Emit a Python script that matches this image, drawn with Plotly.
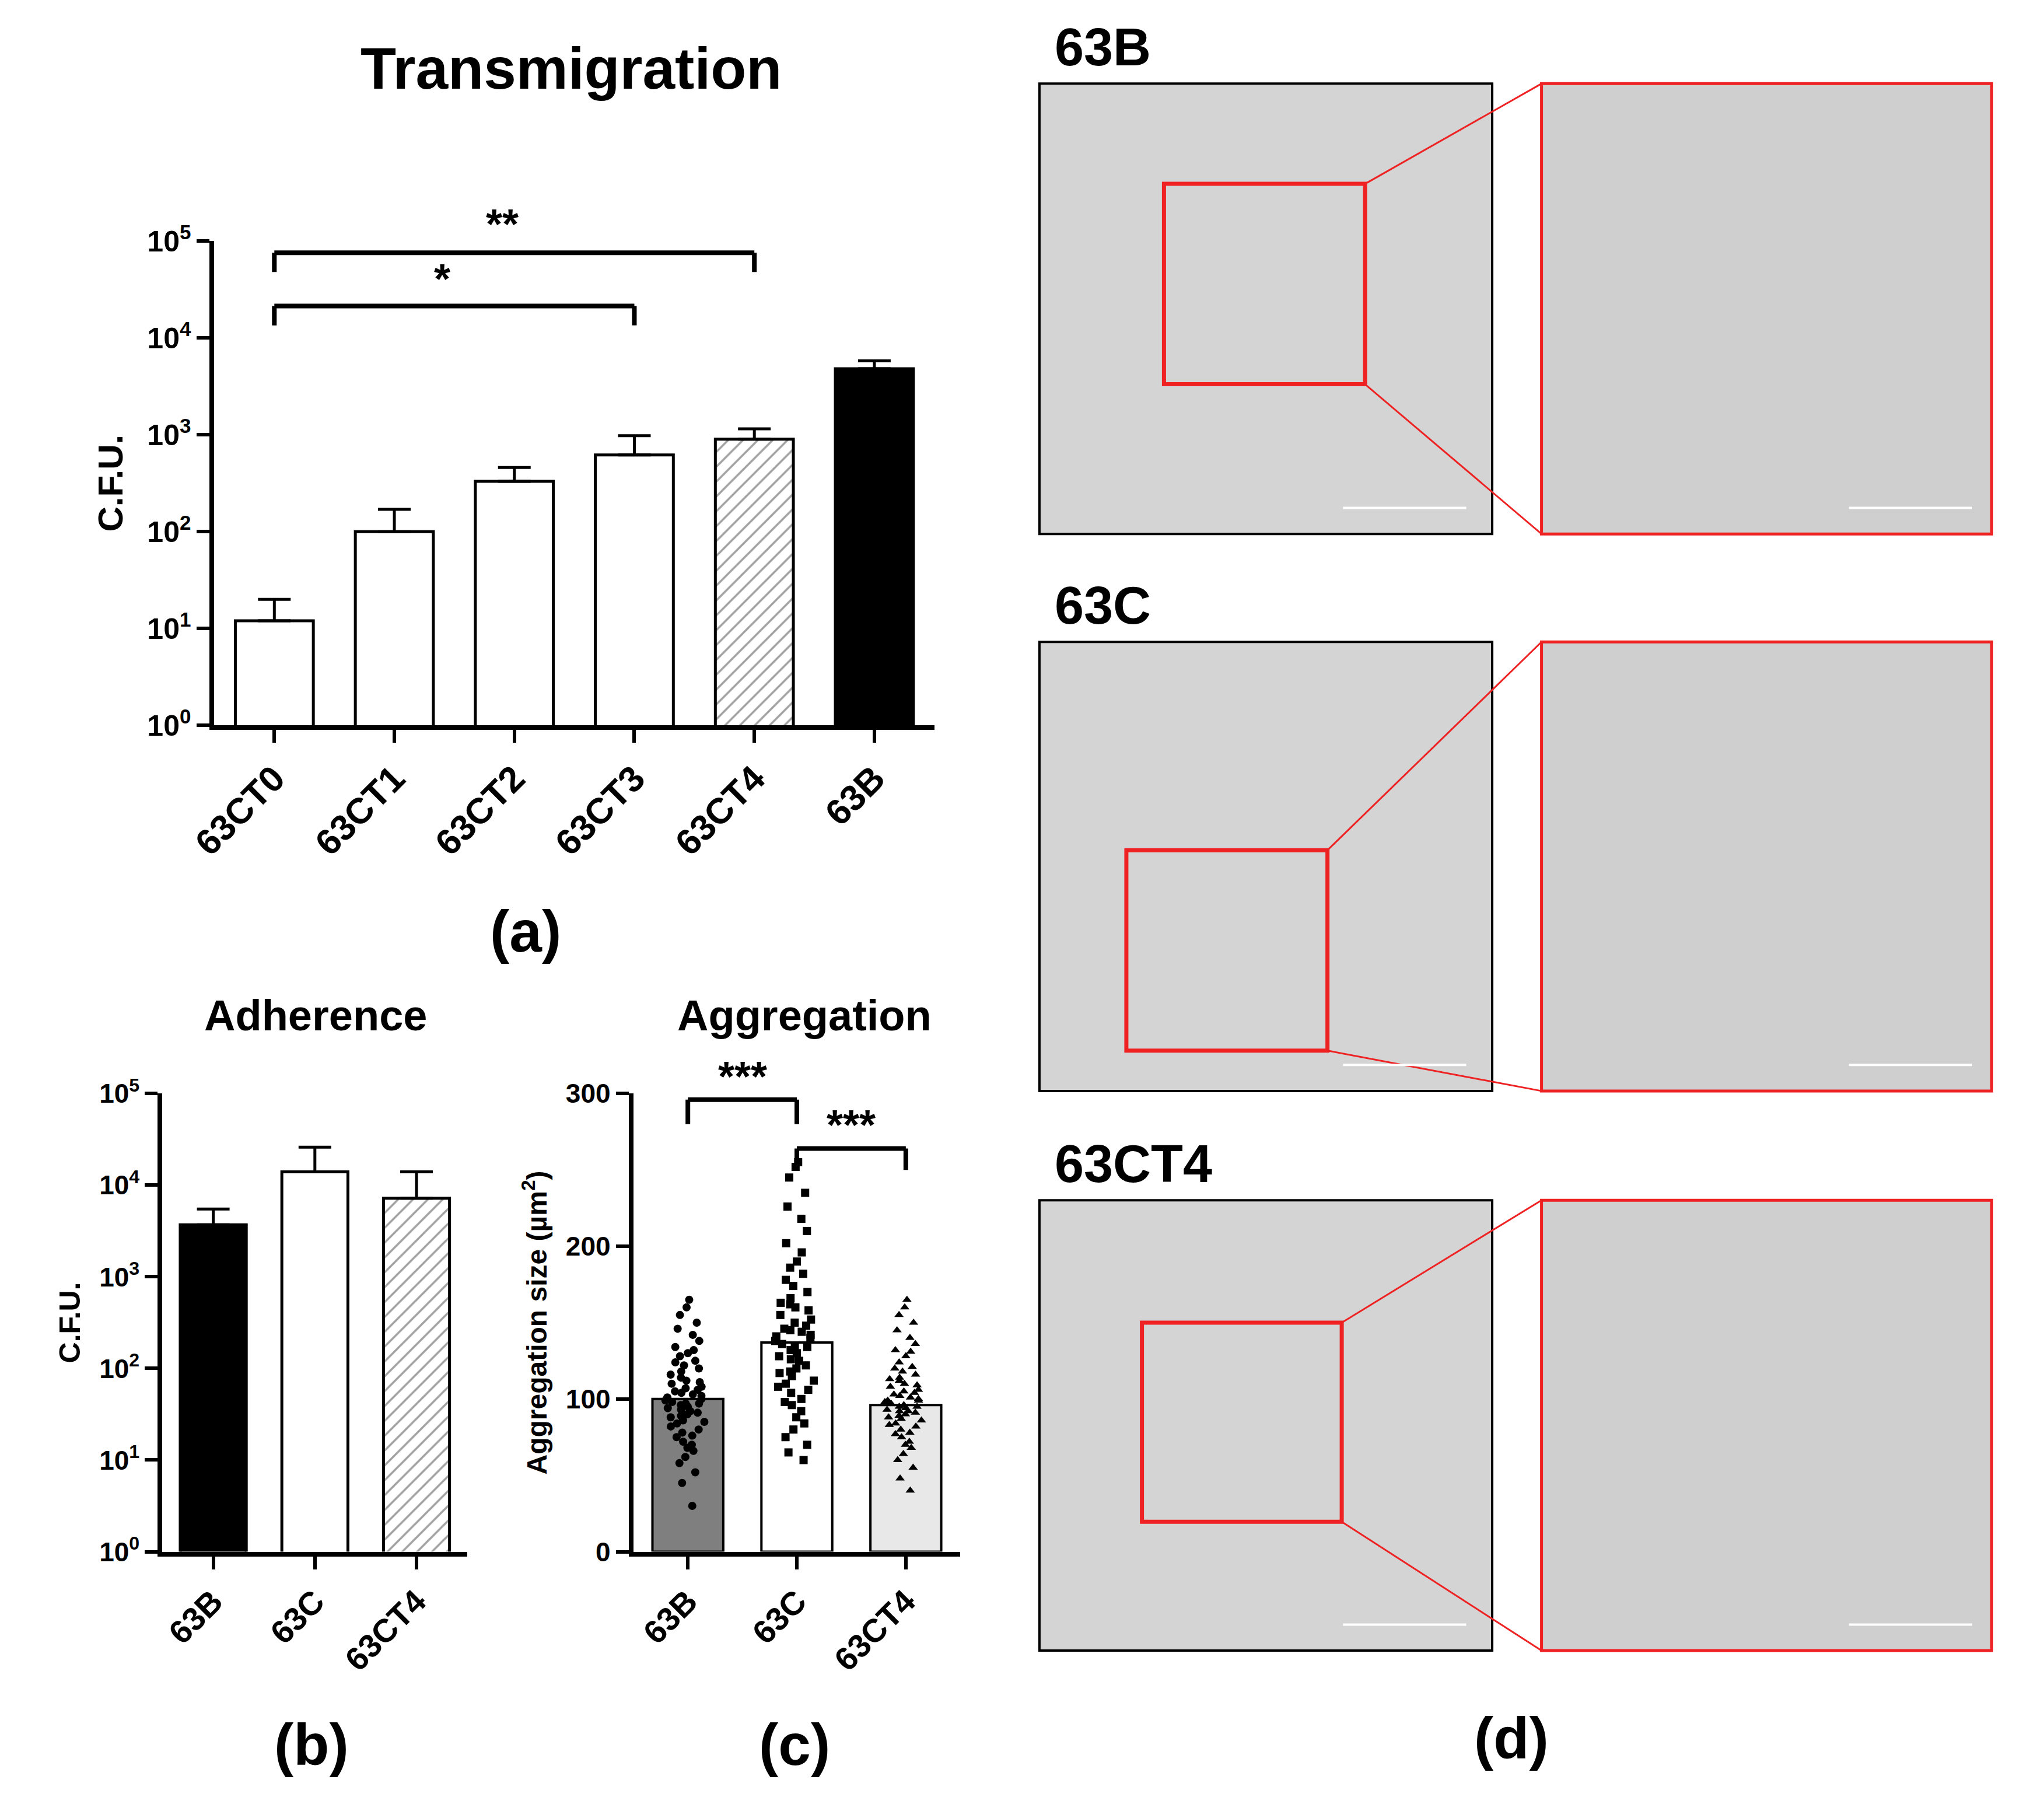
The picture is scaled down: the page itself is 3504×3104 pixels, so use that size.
import plotly.graph_objects as go

W, H = 3504, 3104
# ---------------- data ----------------
trans_cats = ["63CT0", "63CT1", "63CT2", "63CT3", "63CT4", "63B"]
trans_vals = [12, 100, 330, 620, 900, 4800]
trans_err = [8, 70, 130, 360, 250, 1000]

adh_cats = ["63B", "63C", "63CT4"]
adh_vals = [3700, 14000, 7200]
adh_err = [1800, 12000, 6800]

agg_cats = ["63B", "63C", "63CT4"]
agg_means = [100, 137, 96]
agg_63B = [30, 45, 52, 58, 62, 66, 70, 72, 75, 78, 80, 82, 84, 86, 88, 90, 91, 92, 94, 95, 96, 97, 98, 99,
           100, 101, 102, 103, 104, 105, 106, 108, 110, 112, 114, 116, 118, 120, 122, 125, 128, 130, 134,
           138, 142, 146, 150, 155, 160, 165, 85, 93, 107, 111, 97, 89, 76, 68, 124, 132]
agg_63C = [60, 65, 70, 75, 80, 84, 88, 92, 96, 100, 104, 108, 110, 112, 115, 118, 120, 122, 125, 128, 130,
           132, 134, 136, 138, 140, 142, 144, 146, 148, 150, 152, 155, 158, 160, 163, 166, 170, 174, 178,
           182, 186, 190, 196, 202, 210, 218, 226, 235, 245, 252, 255, 126, 135, 141, 117, 106, 98, 145, 162]
agg_63CT4 = [40, 48, 55, 60, 64, 68, 72, 75, 78, 80, 82, 84, 86, 88, 90, 91, 92, 93, 94, 95, 96, 97, 98, 99,
             100, 101, 102, 104, 106, 108, 110, 112, 114, 116, 118, 120, 124, 128, 132, 136, 140, 145, 150,
             155, 160, 165, 87, 89, 103, 105, 77, 70, 121, 95, 83, 109, 99, 92, 113, 131]
agg_sym = ["circle", "square", "triangle-up"]

img_labels = ["63B", "63C", "63CT4"]

FONT = "Liberation Sans"
fig = go.Figure()

def px(x): return (x * 0.995 - 23.5) / 0.992 / 1560
def py(y): return 1 - (y * 0.999 - 19) / 0.983 / 1385

# ---------- panel a ----------
fig.add_trace(go.Bar(x=trans_cats, y=trans_vals, xaxis="x", yaxis="y", width=0.65,
    marker=dict(color=["white"] * 4 + ["white", "black"], line=dict(color="black", width=5),
                pattern=dict(shape=["", "", "", "", "/", ""], fgcolor="black", bgcolor="white", size=18, solidity=0.2)),
    error_y=dict(type="data", array=trans_err, arrayminus=[0] * 6, color="black", thickness=5, width=28),
    showlegend=False))
# ---------- panel b ----------
fig.add_trace(go.Bar(x=adh_cats, y=adh_vals, xaxis="x2", yaxis="y2", width=0.65,
    marker=dict(color=["black", "white", "white"], line=dict(color="black", width=5),
                pattern=dict(shape=["", "", "/"], fgcolor="black", bgcolor="white", size=18, solidity=0.2)),
    error_y=dict(type="data", array=adh_err, arrayminus=[0] * 3, color="black", thickness=5, width=28),
    showlegend=False))
# ---------- panel c ----------
fig.add_trace(go.Bar(x=agg_cats, y=agg_means, xaxis="x3", yaxis="y3", width=0.65,
    marker=dict(color=["#7f7f7f", "white", "#e8e8e8"], line=dict(color="black", width=4)),
    showlegend=False))
for cat, vals, sym in zip(agg_cats, [agg_63B, agg_63C, agg_63CT4], agg_sym):
    fig.add_trace(go.Box(x=[cat] * len(vals), y=vals, xaxis="x3", yaxis="y3", boxpoints="all",
        jitter=0.9, pointpos=0, fillcolor="rgba(0,0,0,0)", line=dict(color="rgba(0,0,0,0)"),
        marker=dict(symbol=sym, size=14, color="black"), showlegend=False, hoverinfo="y"))

def axc(fs):
    return dict(showline=True, linewidth=8, linecolor="black", ticks="outside", ticklen=22, tickwidth=6,
                tickcolor="black", showgrid=False, zeroline=False,
                tickfont=dict(family=FONT, size=fs, weight="bold", color="black"))
tfont = lambda s: dict(family=FONT, size=s, weight="bold", color="black")
logticks = [1, 10, 100, 1000, 10000, 100000]
logtext = [f"10<sup>{i}</sup>" for i in range(6)]
fig.update_layout(
    width=W, height=H, margin=dict(l=0, r=0, t=0, b=0), plot_bgcolor="white", paper_bgcolor="white",
    boxmode="overlay",
    xaxis=dict(domain=[px(165), px(720)], anchor="y", tickangle=-45, **axc(62)),
    yaxis=dict(domain=[py(557), py(185)], anchor="x", type="log", range=[0, 5], tickvals=logticks, ticktext=logtext,
               title=dict(text="C.F.U.", font=tfont(60), standoff=25), **axc(50)),
    xaxis2=dict(domain=[px(125), px(360)], anchor="y2", tickangle=-45, **axc(56)),
    yaxis2=dict(domain=[py(1192), py(840)], anchor="x2", type="log", range=[0, 5], tickvals=logticks, ticktext=logtext,
                title=dict(text="C.F.U.", font=tfont(50), standoff=20), **axc(46)),
    xaxis3=dict(domain=[px(488), px(740)], anchor="y3", tickangle=-45, **axc(56)),
    yaxis3=dict(domain=[py(1192), py(840)], anchor="x3", range=[0, 300], tickvals=[0, 100, 200, 300],
                title=dict(text="Aggregation size (µm<sup>2</sup>)", font=tfont(48), standoff=20), **axc(46)),
)

shapes = []
anns = []
def bracket(xr, yr, x0, x1, y, drop, text, tx, ty_px):
    shapes.append(dict(type="line", xref=xr, yref=yr, x0=x0, x1=x1, y0=y, y1=y, line=dict(color="black", width=8)))
    for xx in (x0, x1):
        shapes.append(dict(type="line", xref=xr, yref=yr, x0=xx, x1=xx, y0=y, y1=drop, line=dict(color="black", width=8)))
    anns.append(dict(xref=xr, yref="paper", x=tx, y=py(ty_px), text=text, showarrow=False,
                     xanchor="center", yanchor="middle", font=tfont(72)))

bracket("x", "y", 0, 4, 10 ** 4.88, 10 ** 4.68, "**", 1.9, 172)
bracket("x", "y", 0, 3, 10 ** 4.33, 10 ** 4.13, "*", 1.4, 214)
bracket("x3", "y3", 0, 1, 296, 280, "***", 0.5, 827)
bracket("x3", "y3", 1, 2, 264, 250, "***", 1.5, 864)

for t, x, y, s in [("Transmigration", 440, 52, 100), ("Adherence", 243, 780, 74), ("Aggregation", 620, 780, 74),
                   ("(a)", 405, 715, 100), ("(b)", 240, 1340, 100), ("(c)", 612, 1340, 100), ("(d)", 1165, 1335, 100)]:
    anns.append(dict(xref="paper", yref="paper", x=px(x), y=py(y), text=t, showarrow=False,
                     xanchor="center", yanchor="middle", font=tfont(s)))

rows = [(64, 410), (493, 838), (922, 1268)]
inner = [(897, 141, 1052, 295), (868, 653, 1023, 807), (880, 1016, 1034, 1169)]
for lab, (y0, y1), (ix0, iy0, ix1, iy1) in zip(img_labels, rows, inner):
    shapes.append(dict(type="rect", xref="paper", yref="paper", x0=px(801), x1=px(1150), y0=py(y1), y1=py(y0),
                       fillcolor="#d4d4d4", line=dict(color="black", width=4)))
    shapes.append(dict(type="rect", xref="paper", yref="paper", x0=px(1188), x1=px(1535), y0=py(y1), y1=py(y0),
                       fillcolor="#cfcfcf", line=dict(color="#ee2222", width=5)))
    shapes.append(dict(type="rect", xref="paper", yref="paper", x0=px(ix0), x1=px(ix1), y0=py(iy1), y1=py(iy0),
                       line=dict(color="#ee2222", width=7)))
    shapes.append(dict(type="line", xref="paper", yref="paper", x0=px(ix1), y0=py(iy0), x1=px(1188), y1=py(y0),
                       line=dict(color="#ee2222", width=3)))
    shapes.append(dict(type="line", xref="paper", yref="paper", x0=px(ix1), y0=py(iy1), x1=px(1188), y1=py(y1),
                       line=dict(color="#ee2222", width=3)))
    for bx in (1035, 1425):
        shapes.append(dict(type="line", xref="paper", yref="paper", x0=px(bx), x1=px(bx + 95), y0=py(y1 - 20), y1=py(y1 - 20),
                           line=dict(color="white", width=4)))
    anns.append(dict(xref="paper", yref="paper", x=px(812), y=py(y0 - 28), text=lab, showarrow=False,
                     xanchor="left", yanchor="middle", font=tfont(90)))

fig.update_layout(shapes=shapes, annotations=anns)
fig.write_html("out.html")
